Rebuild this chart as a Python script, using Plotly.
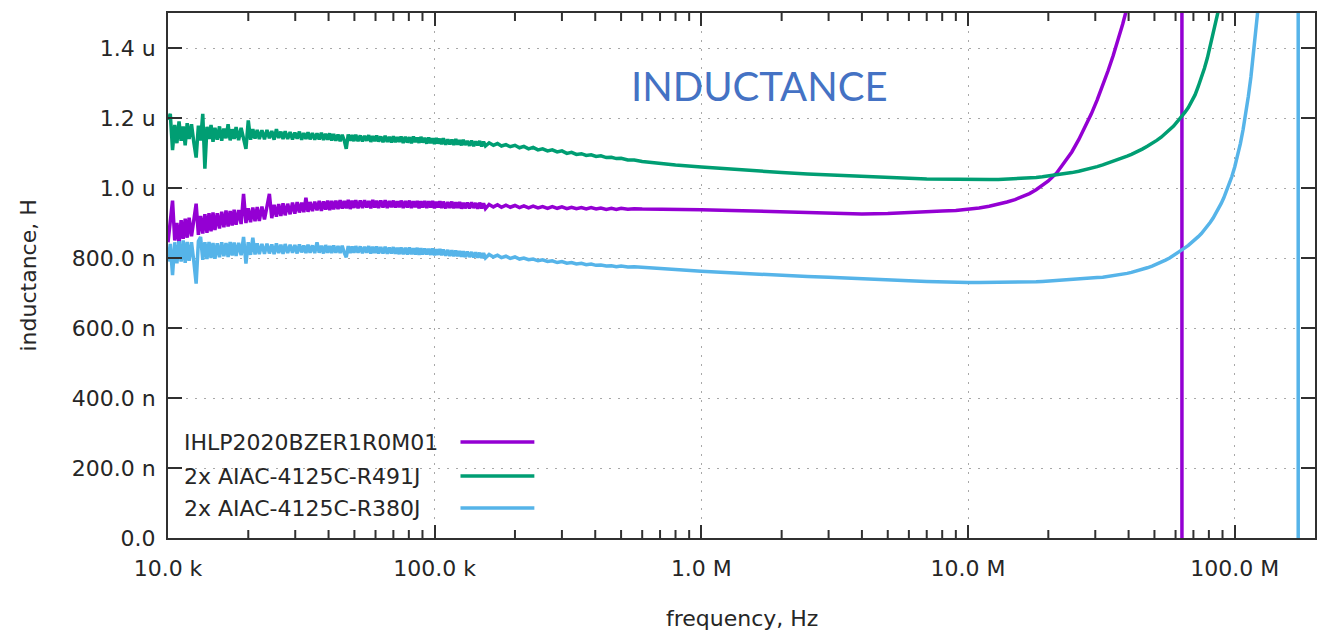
import plotly.graph_objects as go

# Low-frequency part of the sweep (kHz): dense, noisy region
sweep_lo_khz = [
    10.0, 10.2, 10.4, 10.6, 10.8, 11.0, 11.2, 11.4, 11.6, 11.8, 12.0,
    12.25, 12.5, 12.75, 13.0, 13.25, 13.5, 13.75, 14.0, 14.25, 14.5, 14.75, 15.0,
    15.3, 15.6, 15.9, 16.2, 16.5, 16.8, 17.1, 17.4, 17.7, 18.0,
    18.4, 18.8, 19.2, 19.6, 20.0, 20.4, 20.8, 21.2, 21.6, 22.0,
    22.5, 23.0, 23.5, 24.0, 24.5, 25.0, 25.5, 26.0, 26.5, 27.0, 27.5,
    28.1, 28.7, 29.3, 29.9, 30.5, 31.1, 31.7, 32.3, 32.9, 33.5, 34.1,
    34.8, 35.5, 36.2, 36.9, 37.6, 38.3, 39.0, 39.7, 40.4, 41.1, 41.8,
    42.6, 43.4, 44.2, 45.0, 45.8, 46.6, 47.4, 48.2, 49.0, 49.8, 50.6,
    51.6, 52.6, 53.6, 54.6, 55.6, 56.6, 57.6, 58.6, 59.6, 60.6, 61.6,
    62.8, 64.0, 65.2, 66.4, 67.6, 68.8, 70.0, 71.2, 72.4, 73.6, 74.8,
    76.2, 77.6, 79.0, 80.4, 81.8, 83.2, 84.6, 86.0, 87.4, 88.8, 90.2,
    91.8, 93.4, 95.0, 96.6, 98.2, 99.8, 101.4, 103.0, 104.6, 106.2, 107.8,
    110, 112, 114, 116, 118, 120, 122, 124, 126, 128, 130,
    132.5, 135, 137.5, 140, 142.5, 145, 147.5, 150, 152.5, 155,
    160, 166, 172, 178, 185, 192, 200, 208, 216, 225, 234, 244, 254, 265, 276, 288,
    300, 313, 326, 340, 355, 370, 386, 403, 420, 440, 460, 480, 500, 530, 560, 600,
]

# High-frequency part of the sweep (MHz)
sweep_hi_mhz = [
    0.7, 0.8, 1.0, 1.3, 1.6, 2.0, 2.5, 3.0, 4.0, 5.0, 6.0, 7.0, 8.0, 9.0,
    10, 11, 12, 13, 14, 15, 16, 17, 18, 19, 20,
    21.5, 23, 24.5, 26, 27.5, 29, 30.5, 32, 33.5, 35, 36.5, 38, 39.5, 41,
    43, 45, 47, 49, 51, 53, 55, 57, 59, 61,
    62.5, 63.2, 63.6, 65,
    67, 69, 71, 73, 75, 77, 79, 81, 83, 85, 87, 89, 91, 93, 95,
    97.5, 100, 102.5, 105, 107.5, 110, 112.5, 115, 117.5, 120, 122.5, 125, 127.5, 130,
    140, 150, 160, 170, 172.5, 173.5, 180, 190, 200,
]

# Inductance readings, nH
ihlp_lo_nh = [
    845, 905, 964, 850, 900, 841, 908, 855, 912, 858, 915,
    862, 918, 955, 866, 920, 870, 925, 872, 928, 876, 930, 880,
    928, 884, 932, 888, 936, 890, 934, 893, 938, 895,
    937, 897, 983, 900, 942, 902, 944, 905, 946, 906,
    947, 910, 950, 983, 914, 952, 918, 954, 920, 956, 922,
    955, 925, 958, 927, 960, 930, 958, 931, 972, 932, 960,
    934, 961, 936, 963, 935, 962, 938, 964, 937, 963, 939,
    964, 940, 965, 941, 963, 942, 966, 940, 964, 943, 965,
    942, 964, 943, 965, 944, 963, 942, 966, 944, 964, 943,
    964, 944, 965, 943, 963, 945, 964, 944, 962, 945, 964,
    943, 963, 944, 964, 943, 962, 945, 963, 942, 962, 944,
    963, 943, 962, 944, 963, 942, 961, 944, 962, 943, 961,
    942, 960, 943, 961, 942, 959, 943, 960, 941, 958, 942,
    958, 942, 959, 943, 957, 941, 958, 942, 956, 941,
    953, 946, 952, 945, 951, 945, 950, 944, 949, 943, 948, 943, 947, 942, 947, 942,
    946, 941, 945, 941, 944, 940, 944, 940, 943, 939, 942, 939, 942, 939, 941, 940,
]
ihlp_hi_nh = [
    940, 939, 938, 936, 934, 932, 930, 928, 926, 927, 929, 931, 934, 936,
    939, 943, 948, 953, 960, 967, 975, 984, 995, 1007, 1020,
    1043, 1072, 1103, 1138, 1175, 1212, 1252, 1293, 1335, 1378, 1422, 1468, 1516, 1565,
    1635, 1710, 1795, 1890, 2000, 2150, 2350, 2650, 3200, 4500,
    9000, 30000, -30000, -8000,
    -4000, -2800, -2200, -1800, -1550, -1400, -1250, -1150, -1070, -1000, -940, -890, -850, -810, -780,
    -750, -720, -695, -672, -650, -632, -615, -600, -586, -573, -561, -550, -540, -530,
    -500, -475, -455, -440, -437, -436, -430, -420, -410,
]

r491_lo_nh = [
    1195, 1212, 1108, 1180, 1128, 1190, 1135, 1176, 1122, 1185, 1140,
    1182, 1130, 1087, 1178, 1136, 1212, 1055, 1175, 1140, 1180, 1132, 1172,
    1138, 1176, 1135, 1170, 1142, 1182, 1136, 1168, 1140, 1174,
    1137, 1172, 1140, 1112, 1193, 1138, 1168, 1141, 1166, 1140,
    1165, 1139, 1166, 1142, 1163, 1138, 1168, 1143, 1161, 1140, 1162,
    1140, 1160, 1139, 1158, 1141, 1161, 1138, 1157, 1140, 1159, 1139,
    1157, 1138, 1156, 1139, 1158, 1137, 1155, 1138, 1156, 1136, 1154,
    1135, 1153, 1134, 1152, 1136, 1112, 1153, 1135, 1151, 1134, 1152,
    1134, 1150, 1133, 1149, 1135, 1151, 1132, 1148, 1134, 1150, 1133,
    1147, 1131, 1149, 1132, 1146, 1130, 1148, 1131, 1145, 1132, 1147,
    1129, 1146, 1130, 1145, 1128, 1147, 1131, 1144, 1129, 1146, 1130,
    1143, 1127, 1144, 1128, 1142, 1126, 1143, 1127, 1141, 1125, 1142,
    1124, 1139, 1125, 1138, 1123, 1140, 1124, 1137, 1122, 1138, 1123,
    1134, 1121, 1135, 1120, 1133, 1122, 1134, 1119, 1132, 1120,
    1129, 1122, 1127, 1120, 1124, 1118, 1122, 1115, 1119, 1112, 1116, 1109, 1112, 1106, 1109, 1103,
    1106, 1099, 1102, 1096, 1098, 1093, 1095, 1090, 1092, 1087, 1088, 1084, 1085, 1080, 1080, 1076,
]
r491_hi_nh = [
    1070, 1066, 1060, 1053, 1048, 1044, 1040, 1037, 1033, 1030, 1028, 1026, 1025, 1024,
    1024, 1024, 1024, 1024, 1025, 1026, 1027, 1028, 1030, 1032, 1034,
    1037, 1040, 1044, 1048, 1052, 1056, 1061, 1066, 1071, 1076, 1081, 1086, 1091, 1096,
    1103, 1111, 1119, 1127, 1136, 1145, 1155, 1166, 1177, 1190,
    1199, 1204, 1207, 1216,
    1230, 1246, 1266, 1290, 1315, 1342, 1372, 1405, 1440, 1475, 1510, 1550, 1600, 1650, 1710,
    1790, 1890, 2000, 2120, 2250, 2400, 2560, 2740, 2940, 3150, 3400, 3650, 3950, 4300,
    6000, 9000, 15000, 30000, 36000, 40000, 80000, 150000, 300000,
]

r380_lo_nh = [
    790, 840, 751, 845, 785, 848, 790, 850, 786, 846, 792,
    845, 790, 727, 848, 860, 795, 845, 797, 846, 800, 843, 798,
    842, 802, 845, 805, 843, 803, 846, 807, 844, 806,
    843, 808, 860, 784, 845, 809, 858, 810, 842, 811,
    840, 812, 841, 813, 839, 811, 842, 814, 838, 812, 840,
    814, 838, 815, 837, 813, 839, 816, 836, 814, 838, 815,
    836, 814, 845, 815, 835, 813, 837, 815, 834, 814, 836,
    815, 834, 814, 835, 815, 802, 834, 814, 833, 815, 834,
    815, 833, 814, 832, 815, 834, 813, 832, 814, 833, 813,
    831, 813, 832, 812, 830, 813, 831, 812, 829, 811, 830,
    811, 829, 810, 830, 811, 828, 810, 829, 809, 828, 810,
    827, 810, 826, 809, 827, 808, 825, 809, 826, 808, 824,
    807, 823, 806, 822, 805, 821, 805, 820, 804, 819, 803,
    818, 803, 817, 802, 816, 801, 815, 800, 814, 800,
    810, 803, 808, 801, 805, 799, 803, 797, 800, 795, 797, 792, 795, 790, 792, 787,
    790, 785, 787, 783, 785, 781, 783, 779, 780, 777, 778, 775, 777, 774, 775, 773,
]
r380_hi_nh = [
    770, 767, 762, 757, 753, 750, 747, 745, 740, 737, 735, 733, 731, 730,
    730, 730, 730, 730, 730, 731, 731, 732, 732, 733, 734,
    735, 736, 738, 739, 741, 742, 744, 745, 747, 749, 751, 754, 756, 759,
    763, 767, 772, 777, 782, 788, 794, 800, 807, 814,
    819, 822, 823, 829,
    836, 844, 852, 861, 870, 880, 891, 902, 914, 927, 941, 956, 972, 989, 1007,
    1032, 1060, 1092, 1127, 1167, 1212, 1262, 1317, 1378, 1445, 1518, 1600, 1700, 1810,
    2400, 3400, 5500, 15000, 60000, -60000, -6000, -2500, -1500,
]

series_names = ["IHLP2020BZER1R0M01", "2x AIAC-4125C-R491J", "2x AIAC-4125C-R380J"]
series_lo = [ihlp_lo_nh, r491_lo_nh, r380_lo_nh]
series_hi = [ihlp_hi_nh, r491_hi_nh, r380_hi_nh]
series_colors = ["#9400D3", "#009E73", "#56B4E9"]

# Axis ticks
x_tickvals_hz = [1e4, 1e5, 1e6, 1e7, 1e8]
x_ticktext = ["10.0 k", "100.0 k", "1.0 M", "10.0 M", "100.0 M"]
y_tickvals_nh = [0, 200, 400, 600, 800, 1000, 1200, 1400]
y_ticktext = ["0.0", "200.0 n", "400.0 n", "600.0 n", "800.0 n", "1.0 u", "1.2 u", "1.4 u"]

W, H = 1319, 634
ML, MR, MT, MB = 168, 2, 13, 96
PW, PH = W - ML - MR, H - MT - MB

FONT = "DejaVu Sans"
TXT = "#262626"
FRAME = "#303030"
GRID = "#a8a8a8"
X_RANGE = [4, 8.30103]

freq_hz = [f * 1e3 for f in sweep_lo_khz] + [f * 1e6 for f in sweep_hi_mhz]

fig = go.Figure()
for name, lo, hi, col in zip(series_names, series_lo, series_hi, series_colors):
    fig.add_trace(go.Scatter(
        x=freq_hz, y=lo + hi, mode="lines", name=name,
        line=dict(color=col, width=3.5), showlegend=False,
    ))

fig.update_xaxes(
    type="log", range=X_RANGE,
    tickmode="array", tickvals=x_tickvals_hz, ticktext=x_ticktext,
    ticks="inside", ticklen=13, tickwidth=2, tickcolor=FRAME,
    showline=True, linecolor=FRAME, linewidth=2, mirror="ticks",
    showgrid=True, gridcolor=GRID, gridwidth=1, griddash="2px,7px",
    tickfont=dict(family=FONT, size=22, color=TXT),
    ticklabelstandoff=10, zeroline=False,
)
fig.update_yaxes(
    range=[0, 1500],
    tickmode="array", tickvals=y_tickvals_nh, ticktext=y_ticktext,
    ticks="inside", ticklen=14, tickwidth=2, tickcolor=FRAME,
    showline=True, linecolor=FRAME, linewidth=2, mirror="ticks",
    showgrid=True, gridcolor=GRID, gridwidth=1, griddash="2px,7px",
    tickfont=dict(family=FONT, size=22, color=TXT),
    ticklabelstandoff=6, zeroline=False,
)

def px_x(px):
    return (px - ML) / PW

def px_y(py):
    return (H - MB - py) / PH

shapes = [dict(type="rect", xref="paper", yref="paper",
               x0=0, x1=px_x(545), y0=0, y1=px_y(425),
               fillcolor="white", line=dict(width=0), layer="between")]

# short minor ticks (2..9 in every decade) on bottom and top frame, placed on the log x scale
MINOR_LEN = 8 / PH
minor_vals = [m * 10 ** e for e in range(4, 9) for m in range(2, 10) if m * 10 ** e < 2e8]
for v in minor_vals:
    for y0, y1 in ((0, MINOR_LEN), (1 - MINOR_LEN, 1)):
        shapes.append(dict(type="line", xref="x", yref="paper",
                           x0=v, x1=v, y0=y0, y1=y1,
                           line=dict(color=FRAME, width=2), layer="above"))

annotations = []
legend_y = [442, 476, 508]
for name, col, ly in zip(series_names, series_colors, legend_y):
    shapes.append(dict(type="line", xref="paper", yref="paper",
                       x0=px_x(461), x1=px_x(535), y0=px_y(ly), y1=px_y(ly),
                       line=dict(color=col, width=3.5), layer="above"))
    annotations.append(dict(text=name, xref="paper", yref="paper",
                            x=px_x(182), y=px_y(ly), xanchor="left", yanchor="middle",
                            showarrow=False, font=dict(family=FONT, size=22, color=TXT)))

annotations += [
    dict(text="INDUCTANCE", xref="paper", yref="paper", x=px_x(761), y=px_y(86),
         xanchor="center", yanchor="middle", showarrow=False,
         font=dict(family="Lato", size=40, color="#4472C4")),
    dict(text="frequency, Hz", xref="paper", yref="paper", x=0.5, y=0,
         xanchor="center", yanchor="middle", yshift=-(618 - (H - MB)), showarrow=False,
         font=dict(family=FONT, size=22, color=TXT)),
    dict(text="inductance, H", xref="paper", yref="paper", x=0, y=0.5,
         xanchor="center", yanchor="middle", xshift=-(ML - 28), textangle=-90,
         showarrow=False, font=dict(family=FONT, size=22, color=TXT)),
]

fig.update_layout(
    width=W, height=H,
    margin=dict(l=ML, r=MR, t=MT, b=MB),
    paper_bgcolor="white", plot_bgcolor="white",
    shapes=shapes, annotations=annotations,
    showlegend=False,
)

fig.write_html("out.html")
